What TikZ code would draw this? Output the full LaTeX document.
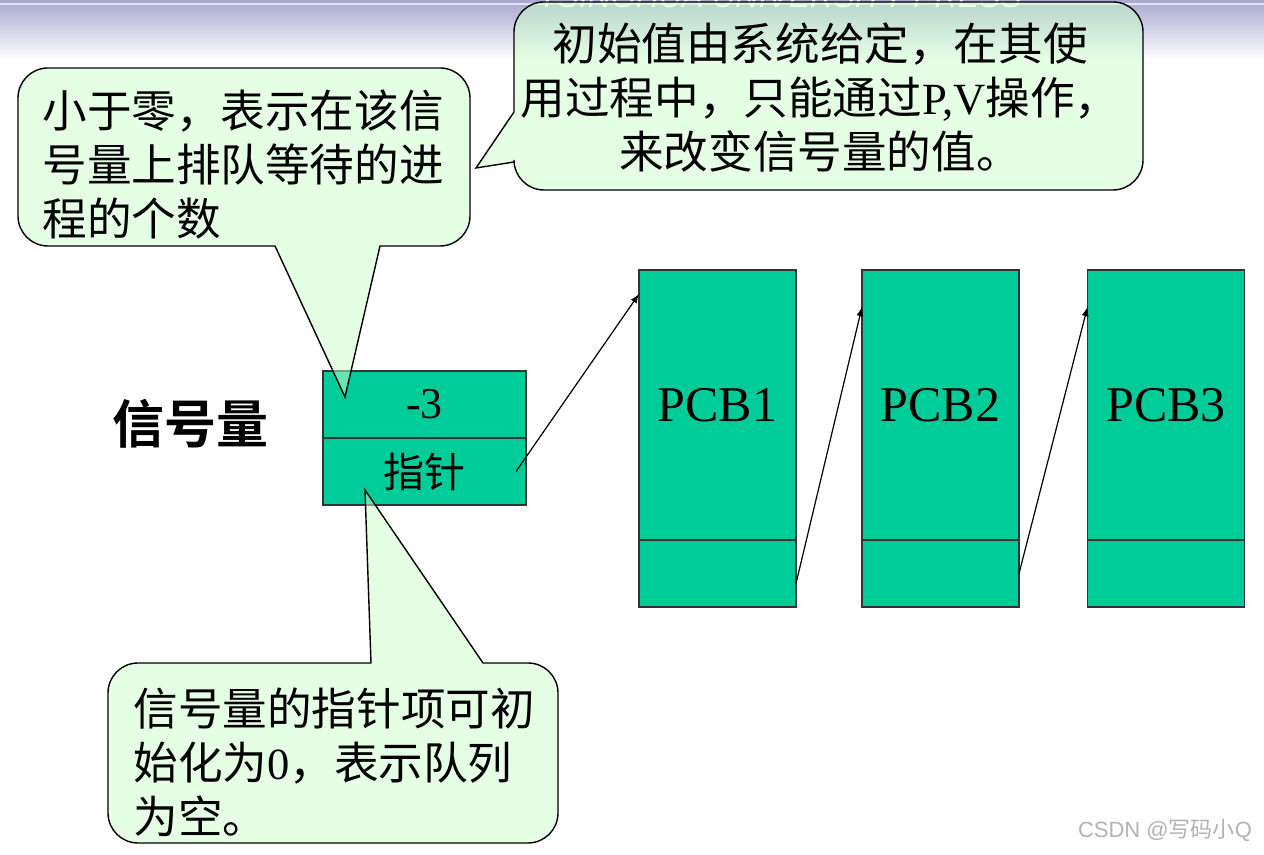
\documentclass[tikz,border=0pt]{standalone}
\usepackage{fontspec}
\setmainfont{Liberation Serif}
\newfontfamily\cjk{Noto Sans CJK SC}
\newfontfamily\cjkfett{Noto Sans CJK SC Bold}
\newfontfamily\grotesk{Liberation Sans}
\usepackage{tikz}
\usetikzlibrary{arrows, positioning}

\definecolor{pcbgruen}{RGB}{0,204,153}
\definecolor{blasengruen}{RGB}{204,255,204}
\definecolor{bannerblau}{RGB}{168,168,208}

\begin{document}
\begin{tikzpicture}[x=0.5pt, y=0.5pt,
				>=latex,   %Pfeilspitzen
				zelle/.style={draw=black!80, fill=pcbgruen, line width=0.6pt, inner sep=0pt, outer sep=0pt,
					minimum width=101.5pt, minimum height=33.5pt},
				pcbkopf/.style={zelle, minimum width=78.5pt, minimum height=135pt, font=\fontsize{25}{30}\selectfont},
				pcbfuss/.style={zelle, minimum width=78.5pt, minimum height=33.5pt},
				blase/.style={draw=black, line width=0.7pt, fill=blasengruen, fill opacity=0.5},
				blasentext/.style={inner sep=0pt, font=\cjk\fontsize{22.3}{27}\selectfont},
				zeiger/.style={->, line width=0.6pt}]
				\useasboundingbox (0,0) rectangle (1264,855);
				%Kopfleiste
				\shade[top color=bannerblau, bottom color=white] (0,795) rectangle (1264,855);
				\draw[white!70!bannerblau, line width=1pt] (0,851) -- (1264,851);
				\node[anchor=base, text=white, font=\grotesk\itshape\fontsize{16}{16}\selectfont] (verlag) at (780,847) {TSINGHUA UNIVERSITY PRESS};
				%Semaphor
				\node[font=\cjkfett\fontsize{26}{30}\selectfont] (name) at (190,431) {信号量};
				\node[zelle, font=\fontsize{22}{26}\selectfont] (wert) at (424.5,450.5) {-3};
				\node[zelle, below=0pt of wert, font=\cjk\fontsize{20.5}{24}\selectfont] (zeig) {指针};
				%PCB-Kette
				\foreach \i/\x in {1/717.5, 2/940.5, 3/1166} {
					\node[pcbkopf] (pcb\i) at (\x,450) {PCB\i};
					\node[pcbfuss, below=0pt of pcb\i] (fuss\i) {};
				}
				\draw[zeiger] ([xshift=-5pt]zeig.east) -- ([yshift=-12pt]pcb1.north west);
				\foreach \i/\j/\s in {1/2/-5pt, 2/3/0pt}
					\draw[zeiger] ([yshift=\s]fuss\i.east) -- ([yshift=-18.5pt]pcb\j.north west);
				%Sprechblasen
				\draw[blase] (18,639) -- (18,757) arc[start angle=180, end angle=90, radius=30] -- (440,787)
					arc[start angle=90, end angle=0, radius=30] -- (470,639) arc[start angle=0, end angle=-90, radius=30]
					-- (380,609) -- (345,458) -- (275,609) -- (48,609) arc[start angle=270, end angle=180, radius=30] -- cycle;
				\draw[blase] (514,743) -- (514,823) arc[start angle=180, end angle=90, radius=30] -- (1113,853)
					arc[start angle=90, end angle=0, radius=30] -- (1143,695) arc[start angle=0, end angle=-90, radius=30]
					-- (544,665) arc[start angle=270, end angle=180, radius=30] -- (514,693) -- (476,687) -- cycle;
				\draw[blase] (108,102) -- (108,162) arc[start angle=180, end angle=90, radius=30] -- (371,192)
					-- (365,365) -- (483,192) -- (528,192) arc[start angle=90, end angle=0, radius=30] -- (558,42)
					arc[start angle=0, end angle=-90, radius=30] -- (138,12) arc[start angle=270, end angle=180, radius=30] -- cycle;
				%Beschriftung
				\node[blasentext, anchor=west, align=left] (text1) at (42,690)
					{小于零，表示在该信\\号量上排队等待的进\\程的个数};
				\node[blasentext, align=center] (text2) at (820,757)
					{初始值由系统给定，在其使\\用过程中，只能通过{\rmfamily P,V}操作，\\来改变信号量的值。};
				\node[blasentext, anchor=west, align=left] (text3) at (133,93)
					{信号量的指针项可初\\始化为{\rmfamily 0}，表示队列\\为空。};
				%Wasserzeichen
				\node[anchor=east, text=black!30, font=\grotesk\fontsize{11}{13}\selectfont] (marke) at (1259,24)
					{CSDN @{\cjk 写码小}Q};
\end{tikzpicture}
\end{document}
